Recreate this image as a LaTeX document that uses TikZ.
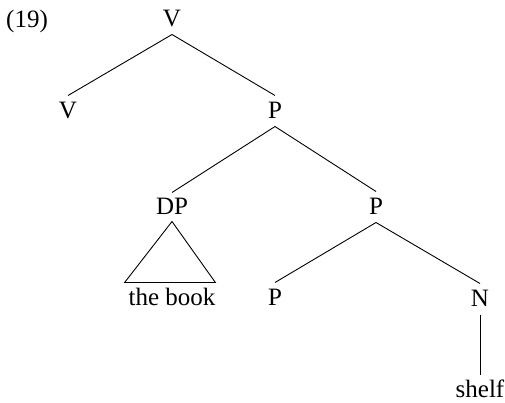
\documentclass[tikz,border=0pt]{standalone}
\usepackage{fontspec}
\setmainfont{Liberation Serif}

\begin{document}
\begin{tikzpicture}[
    x=1pt, y=-1pt,
    cat/.style={inner sep=0pt, outer sep=8pt, text height=15pt, text depth=0pt, font=\fontsize{25}{28}\selectfont},
    branch/.style={line width=0.9pt}
  ]

    \useasboundingbox (0,0) rectangle (505,402);

    % Example number
    \node[cat] (exno) at (27,20) {(19)};

    % Upper part
    \node[cat] (vtop) at (172,19) {V};
    \node[cat] (vleft) at (68,111) {V};
    \node[cat] (pone) at (275,111) {P};
    \draw[branch] (vtop.south) -- (vleft.north);
    \draw[branch] (vtop.south) -- (pone.north);

    % Middle
    \node[cat, outer sep=7pt] (dp) at (172,207) {DP};
    \node[cat] (ptwo) at (376,207) {P};
    \draw[branch] (pone.south) -- (dp.north);
    \draw[branch] (pone.south) -- (ptwo.north);

    % Lower part
    \node[cat] (book) at (172,298) {the book};
    \node[cat] (pthree) at (275,298) {P};
    \node[cat] (nnode) at (480,299) {N};
    \draw[branch, line join=miter] (dp.south) -- ([xshift=4pt]book.north west) -- ([xshift=-8pt]book.north east) -- cycle;
    \draw[branch] (ptwo.south) -- (pthree.north);
    \draw[branch] (ptwo.south) -- (nnode.north);

    \node[cat] (shelf) at (480,390) {shelf};
    \draw[branch] (nnode.south) -- (shelf.north);

  \end{tikzpicture}
\end{document}
